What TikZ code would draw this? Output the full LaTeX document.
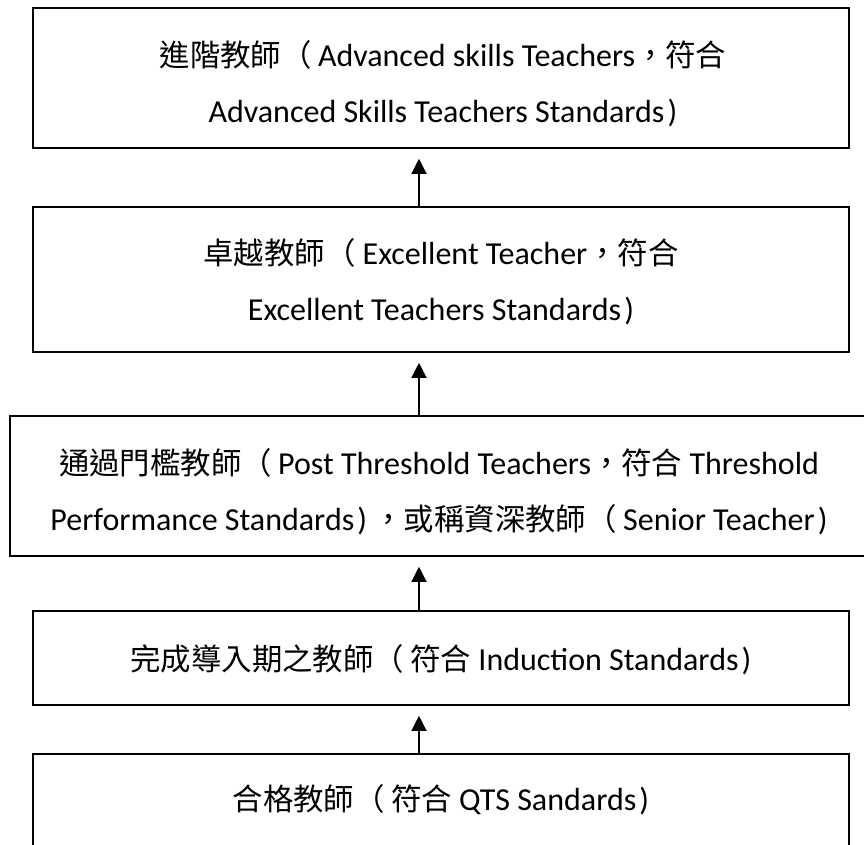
\documentclass[tikz,border=0pt]{standalone}
\usepackage{fontspec}
\setmainfont{Carlito}
\newfontfamily\cjkfont[Scale=0.95]{Noto Sans CJK TC}
\newcommand\zh[1]{{\cjkfont #1}}
\newcommand\lp{\zh{（}\hspace{0.2em}}
\newcommand\rp{\hspace{0.1em})}
\usetikzlibrary{arrows.meta}
\begin{document}
\begin{tikzpicture}[x=1pt,y=-1pt,
  box/.style={draw, line width=1.6pt, rectangle, inner sep=0pt},
  txt/.style={inner sep=0pt, align=center, font=\fontsize{32}{56}\selectfont},
  arr/.style={line width=1.3pt, -{Triangle[length=15pt,width=15pt]}, shorten >=10pt}]
\useasboundingbox (0,0) rectangle (864,845);
\node[box, minimum width=816pt, minimum height=140pt] (b1) at (441,78) {};
\node[txt] (t1) at (443,84)
  {\zh{進階教師}\lp Advanced skills Teachers\zh{，符合}\\Advanced Skills Teachers Standards\rp};
\node[box, minimum width=816pt, minimum height=145pt] (b2) at (441,279.5) {};
\node[txt] (t2) at (441,282)
  {\zh{卓越教師（} Excellent Teacher\zh{，符合}\\Excellent Teachers Standards\rp};
\node[box, minimum width=856pt, minimum height=140pt] (b3) at (438,486) {};
\node[txt] (t3) at (439,492)
  {\zh{通過門檻教師}\lp Post Threshold Teachers\zh{，符合} Threshold\\Performance Standards\rp\hspace{0.2em}\zh{，或稱資深教師}\lp Senior Teacher\rp};
\node[box, minimum width=816pt, minimum height=94pt] (b4) at (441,658) {};
\node[txt] (t4) at (441,660)
  {\zh{完成導入期之教師}\lp\zh{符合} Induction Standards\rp};
\node[box, minimum width=816pt, minimum height=93pt] (b5) at (441,800.5) {};
\node[txt] (t5) at (441,800)
  {\zh{合格教師}\lp\zh{符合} QTS Sandards\rp};
\coordinate (ax) at (419,0);
\draw[arr] (b2.north -| ax) -- (b1.south -| ax);
\draw[arr] (b3.north -| ax) -- (b2.south -| ax);
\draw[arr] (b4.north -| ax) -- (b3.south -| ax);
\draw[arr] (b5.north -| ax) -- (b4.south -| ax);
\end{tikzpicture}
\end{document}
